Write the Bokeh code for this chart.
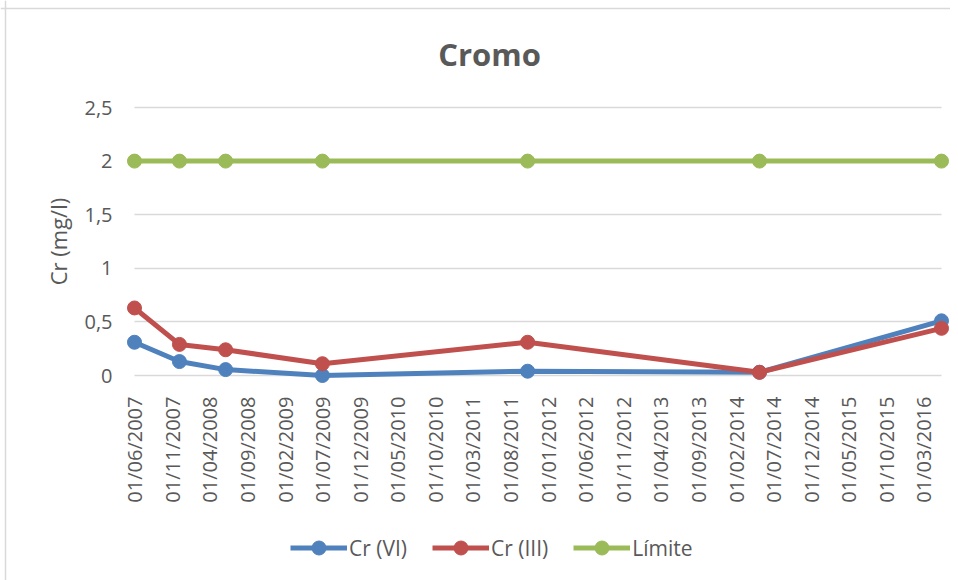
from datetime import datetime
from math import pi

from bokeh.plotting import figure
from bokeh.models import (ColumnDataSource, Range1d, FixedTicker, DatetimeTickFormatter,
                          Legend, LegendItem, Label, Span)
from bokeh.embed import file_html
from bokeh.resources import INLINE

# ---------------- data ----------------
dates = ["2007-06-01", "2007-11-30", "2008-06-04", "2009-07-01",
         "2011-10-10", "2014-05-06", "2016-05-12"]
cr_vi = [0.31, 0.13, 0.055, 0.0, 0.04, 0.03, 0.51]
cr_iii = [0.63, 0.29, 0.24, 0.11, 0.31, 0.03, 0.44]
limite = [2, 2, 2, 2, 2, 2, 2]

x_tick_labels = ["01/06/2007", "01/11/2007", "01/04/2008", "01/09/2008", "01/02/2009",
                 "01/07/2009", "01/12/2009", "01/05/2010", "01/10/2010", "01/03/2011",
                 "01/08/2011", "01/01/2012", "01/06/2012", "01/11/2012", "01/04/2013",
                 "01/09/2013", "01/02/2014", "01/07/2014", "01/12/2014", "01/05/2015",
                 "01/10/2015", "01/03/2016"]
y_ticks = [0, 0.5, 1, 1.5, 2, 2.5]
y_tick_labels = ["0", "0,5", "1", "1,5", "2", "2,5"]

series_names = ["Cr (VI)", "Cr (III)", "Límite"]
colors = ["#4F81BD", "#C0504D", "#9BBB59"]

# ---------------- layout (pixels) ----------------
FONT = "Open Sans"
TXT = "#595959"
W, H = 950, 580
PX_L, PX_R = 134, 941        # plot area left/right (first/last date)
PX_TOP, PX_ZERO = 107, 375   # y of top value and of zero

dts = [datetime.strptime(d, "%Y-%m-%d") for d in dates]
ms = [d.timestamp() * 1000 for d in dts]
t0, t1 = min(ms), max(ms)
ms_per_px = (t1 - t0) / (PX_R - PX_L)
x_start = t0 - PX_L * ms_per_px
x_end = t1 + (W - PX_R) * ms_per_px
y_top = max(y_ticks)
u_per_px = y_top / (PX_ZERO - PX_TOP)
y_start = -(H - PX_ZERO) * u_per_px
y_end = y_top + PX_TOP * u_per_px

p = figure(width=W, height=H, x_axis_type="datetime",
           x_range=Range1d(x_start, x_end), y_range=Range1d(y_start, y_end),
           output_backend="svg", toolbar_location=None,
           min_border_left=0, min_border_right=0, min_border_top=0, min_border_bottom=0)
p.outline_line_color = None
p.background_fill_color = "white"
p.border_fill_color = "white"

# chart-area border (left and top edges, as in the reference)
p.add_layout(Span(location=5, location_units="screen", dimension="height",
                  line_color="#D9D9D9", line_width=1.5))
p.add_layout(Span(location=H - 8, location_units="screen", dimension="width",
                  line_color="#D9D9D9", line_width=1.5))

src = ColumnDataSource(dict(x=dts, vi=cr_vi, iii=cr_iii, lim=limite))

items = []
for name, col, field in zip(series_names, colors, ["vi", "iii", "lim"]):
    r1 = p.line("x", field, source=src, line_color=col, line_width=5, line_join="round")
    r2 = p.scatter("x", field, source=src, size=14, fill_color=col, line_color=col)
    items.append(LegendItem(label=name, renderers=[r1, r2]))

# ---------------- axes ----------------
tick_ms = [datetime.strptime(s, "%d/%m/%Y").timestamp() * 1000 for s in x_tick_labels]
xa = p.xaxis[0]
xa.fixed_location = 0
xa.ticker = FixedTicker(ticks=tick_ms)
fmt = "%d/%m/%Y"
xa.formatter = DatetimeTickFormatter(milliseconds=fmt, seconds=fmt, minsec=fmt, minutes=fmt,
                                     hourmin=fmt, hours=fmt, days=fmt, months=fmt, years=fmt)
xa.major_label_orientation = pi / 2
xa.major_label_standoff = 15

ya = p.yaxis[0]
ya.fixed_location = t0
ya.bounds = (0, y_top)
ya.ticker = FixedTicker(ticks=y_ticks)
ya.major_label_overrides = {t: l for t, l in zip(y_ticks, y_tick_labels)}
ya.major_label_standoff = 16
ya.axis_label = "Cr (mg/l)"
ya.axis_label_standoff = 8
ya.axis_label_text_font = FONT
ya.axis_label_text_font_style = "normal"
ya.axis_label_text_font_size = "22px"
ya.axis_label_text_color = TXT

for ax in (xa, ya):
    ax.axis_line_color = None
    ax.major_tick_line_color = None
    ax.minor_tick_line_color = None
    ax.major_label_text_font = FONT
    ax.major_label_text_font_size = "20px"
    ax.major_label_text_color = TXT

p.xgrid.grid_line_color = None
try:
    p.ygrid.cross_bounds = (t0, t1)
    p.ygrid.grid_line_color = "#D9D9D9"
    p.ygrid.grid_line_width = 1.5
except AttributeError:
    p.ygrid.grid_line_color = None
    p.segment(x0=[t0] * len(y_ticks), x1=[t1] * len(y_ticks), y0=y_ticks, y1=y_ticks,
              line_color="#D9D9D9", line_width=1.5, level="underlay")

# ---------------- title ----------------
p.add_layout(Label(x=489, y=H - 53, x_units="screen", y_units="screen", text="Cromo",
                   text_font=FONT, text_font_style="bold", text_font_size="31px",
                   text_color=TXT, text_align="center", text_baseline="middle"))

# ---------------- legend ----------------
legend = Legend(items=items, orientation="horizontal", location=(290, H - 565),
                glyph_width=57, glyph_height=35, label_height=20, label_standoff=2, spacing=25,
                padding=0, margin=0, border_line_color=None, background_fill_alpha=0,
                label_text_font=FONT, label_text_font_size="21px", label_text_color=TXT)
p.add_layout(legend, "center")

open("out.html", "w").write(file_html(p, INLINE))
